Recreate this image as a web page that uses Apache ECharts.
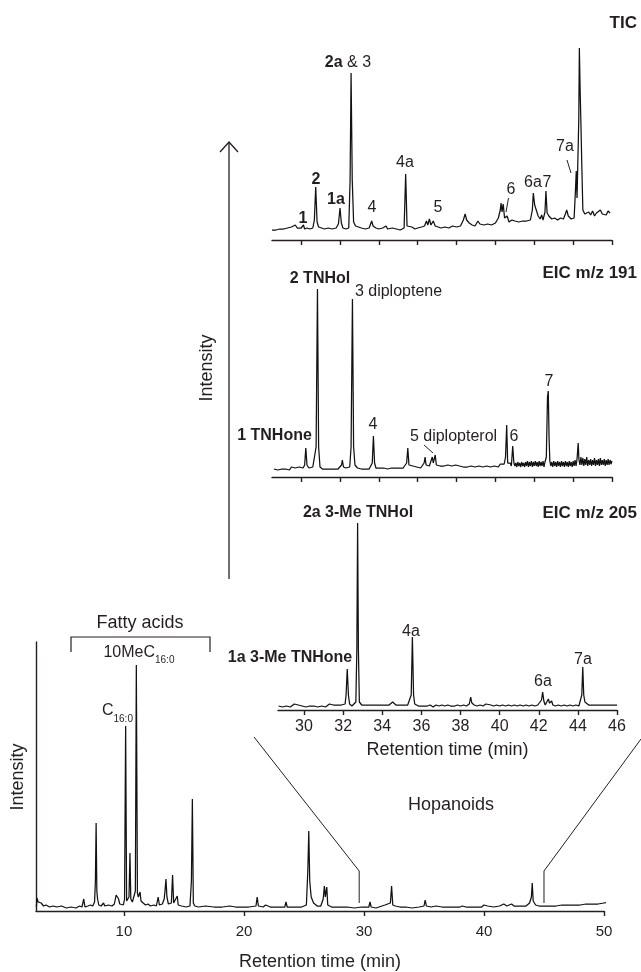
<!DOCTYPE html>
<html><head><meta charset="utf-8">
<script src="https://cdn.jsdelivr.net/npm/echarts@6/dist/echarts.min.js"></script>
<style>html,body{margin:0;padding:0;background:#fff}#c{width:641px;height:972px}</style>
</head><body><div id="c"></div>
<script>
const MAIN_TICKS=[10,20,30,40,50];
const INSET_TICKS=[30,32,34,36,38,40,42,44,46];
const ZOOM_RANGE=[29.6,45.0];

const MAIN_TRACE=[[2.7,4],[2.75,13],[2.85,9],[2.95,7],[3.1,8],[3.3,5],[3.5,6],[3.8,4],[4.1,5],[4.4,4],[4.8,5],[5.2,3],[5.6,4],[6.0,3],[6.3,5],[6.5,4],[6.65,12],[6.75,4],[7.0,5],[7.2,6],[7.4,5],[7.55,9],[7.62,30],[7.68,88],[7.74,20],[7.8,12],[7.9,6],[8.1,5],[8.3,8],[8.4,5],[8.7,6],[9.0,5],[9.2,7],[9.35,16],[9.45,18],[9.55,12],[9.65,7],[9.8,8],[9.95,6],[10.05,12],[10.14,185],[10.22,10],[10.3,8],[10.42,14],[10.5,58],[10.57,12],[10.7,9],[10.85,8],[10.95,20],[11.03,246],[11.12,18],[11.2,14],[11.34,19],[11.42,10],[11.6,8],[11.8,6],[12.0,7],[12.2,5],[12.5,6],[12.7,5],[12.85,14],[12.95,6],[13.2,7],[13.35,12],[13.42,20],[13.5,32],[13.58,14],[13.7,7],[13.95,8],[14.05,36],[14.14,8],[14.3,6],[14.44,15],[14.52,6],[14.8,5],[15.2,4],[15.5,5],[15.62,30],[15.7,112],[15.78,8],[15.9,5],[16.2,4],[16.8,5],[17.5,4],[18.2,4],[18.8,5],[19.3,4],[19.8,4],[20.4,4],[21.0,5],[21.1,14],[21.2,5],[21.6,4],[21.8,6],[22.2,4],[22.8,4],[23.4,4],[23.5,9],[23.6,4],[24.2,4],[24.8,4],[25.2,6],[25.32,40],[25.4,80],[25.48,30],[25.6,14],[25.8,8],[26.1,5],[26.4,5],[26.6,12],[26.7,25],[26.78,14],[26.9,24],[26.98,6],[27.3,4],[28.0,4],[28.6,4],[29.2,3],[29.8,4],[30.4,4],[30.5,9],[30.6,4],[31.0,3],[31.75,6],[31.9,4],[32.2,8],[32.3,25],[32.4,6],[32.6,5],[33.0,4],[33.5,4],[34.0,3],[34.6,4],[35.0,5],[35.1,11],[35.2,5],[35.6,4],[36.0,5],[36.5,4],[37.2,4],[38.0,4],[38.2,5],[38.5,4],[39.2,4],[39.8,4],[40.0,6],[40.3,5],[40.8,4],[41.3,5],[41.65,7],[41.9,5],[42.3,7],[42.5,5],[43.0,5],[43.5,5],[43.8,8],[43.95,14],[44.02,28],[44.1,10],[44.3,6],[44.6,5],[45.0,5],[45.5,5],[46.0,5],[46.5,6],[47.0,6],[47.5,6],[48.0,6],[48.5,7],[49.0,7],[49.5,7],[50.0,8],[50.6,9]];

const TIC_TRACE=[[28.5,10],[28.6,11],[28.7,10],[28.8,12],[28.9,11],[29.0,12],[29.1,11],[29.2,13],[29.3,12],[29.4,11],[29.5,13],[29.6,12],[29.7,15],[29.8,12],[29.9,11],[30.0,12],[30.08,11],[30.12,15],[30.18,11],[30.3,12],[30.45,11],[30.6,12],[30.68,20],[30.75,53],[30.82,18],[30.9,13],[31.0,12],[31.2,11],[31.4,12],[31.6,11],[31.8,12],[31.92,16],[32.0,32],[32.07,17],[32.15,12],[32.3,11],[32.45,12],[32.52,60],[32.57,167],[32.63,60],[32.7,18],[32.8,14],[32.95,13],[33.1,12],[33.3,11],[33.5,12],[33.58,14],[33.63,19],[33.7,14],[33.85,12],[34.0,11],[34.2,12],[34.37,14],[34.45,11],[34.7,12],[34.9,11],[35.1,10],[35.3,12],[35.38,66],[35.45,14],[35.55,12],[35.7,13],[35.85,11],[36.0,12],[36.2,13],[36.35,14],[36.45,19],[36.52,15],[36.6,21],[36.68,15],[36.8,19],[36.9,14],[37.05,13],[37.2,12],[37.4,13],[37.6,12],[37.8,14],[38.0,13],[38.2,14],[38.35,20],[38.44,26],[38.52,20],[38.65,17],[38.8,15],[38.95,14],[39.1,19],[39.2,16],[39.4,15],[39.6,16],[39.8,15],[40.0,17],[40.15,22],[40.25,30],[40.29,37],[40.34,28],[40.4,36],[40.47,22],[40.55,20],[40.6,24],[40.7,18],[40.85,20],[41.0,19],[41.2,18],[41.4,19],[41.6,19],[41.8,20],[41.9,30],[41.95,47],[42.02,35],[42.12,33],[42.2,24],[42.3,21],[42.38,25],[42.45,20],[42.55,28],[42.6,49],[42.66,27],[42.75,24],[42.9,21],[43.05,22],[43.2,20],[43.35,22],[43.5,21],[43.6,26],[43.67,30],[43.75,24],[43.9,21],[44.05,22],[44.12,50],[44.16,69],[44.2,42],[44.25,40],[44.29,120],[44.32,192],[44.36,150],[44.4,117],[44.44,80],[44.5,30],[44.6,26],[44.7,24],[44.8,28],[44.9,25],[45.0,29],[45.1,24],[45.2,27],[45.3,25],[45.4,30],[45.5,26],[45.6,28],[45.7,25],[45.8,29],[45.9,27]];

const EIC191_TRACE=[[28.6,8],[28.7,10],[28.8,7],[28.9,9],[29.0,8],[29.1,10],[29.2,8],[29.3,9],[29.4,7],[29.5,10],[29.6,8],[29.7,9],[29.8,8],[29.9,10],[30.0,8],[30.1,9],[30.18,12],[30.24,29],[30.3,12],[30.4,9],[30.5,8],[30.6,10],[30.7,9],[30.77,30],[30.84,188],[30.9,30],[30.97,10],[31.1,8],[31.2,10],[31.3,8],[31.4,9],[31.5,8],[31.6,10],[31.7,8],[31.8,9],[31.9,8],[32.0,10],[32.08,12],[32.12,17],[32.18,10],[32.3,9],[32.4,8],[32.5,10],[32.57,30],[32.64,178],[32.7,30],[32.77,12],[32.9,9],[33.0,10],[33.1,8],[33.2,9],[33.3,8],[33.4,10],[33.5,8],[33.6,9],[33.66,14],[33.72,41],[33.78,14],[33.85,9],[33.95,10],[34.05,9],[34.15,11],[34.25,9],[34.35,10],[34.45,8],[34.55,10],[34.65,9],[34.75,11],[34.85,9],[34.95,10],[35.05,9],[35.15,11],[35.25,9],[35.35,10],[35.43,14],[35.49,29],[35.55,12],[35.65,10],[35.75,11],[35.85,9],[35.95,10],[36.05,11],[36.15,9],[36.25,11],[36.33,14],[36.38,20],[36.43,12],[36.5,10],[36.6,11],[36.7,13],[36.75,20],[36.8,14],[36.86,16],[36.9,22],[36.96,12],[37.05,10],[37.15,11],[37.25,10],[37.35,11],[37.45,10],[37.55,12],[37.65,10],[37.75,11],[37.85,10],[37.95,12],[38.05,10],[38.15,11],[38.25,12],[38.35,10],[38.45,12],[38.55,10],[38.65,12],[38.75,11],[38.85,12],[38.95,10],[39.05,12],[39.15,11],[39.25,13],[39.35,10],[39.45,12],[39.55,11],[39.65,13],[39.75,10],[39.85,12],[39.95,11],[40.05,13],[40.15,10],[40.25,13],[40.35,11],[40.45,13],[40.52,20],[40.58,52],[40.63,14],[40.7,12],[40.76,14],[40.82,11],[40.89,31],[40.95,14],[41.0,11],[41.05,14],[41.1,10],[41.15,15],[41.2,11],[41.25,14],[41.3,10],[41.35,15],[41.4,11],[41.45,14],[41.5,10],[41.55,15],[41.6,11],[41.65,16],[41.7,10],[41.75,15],[41.8,11],[41.85,16],[41.9,10],[41.95,15],[42.0,11],[42.05,16],[42.1,11],[42.15,15],[42.2,10],[42.25,16],[42.3,11],[42.35,15],[42.4,11],[42.45,16],[42.5,10],[42.55,15],[42.62,20],[42.68,80],[42.72,86],[42.76,40],[42.8,16],[42.85,11],[42.9,15],[42.95,10],[43.0,16],[43.05,11],[43.1,15],[43.15,10],[43.2,16],[43.25,11],[43.3,15],[43.35,10],[43.4,16],[43.45,11],[43.5,15],[43.55,10],[43.6,16],[43.65,11],[43.7,15],[43.75,10],[43.8,16],[43.85,11],[43.9,15],[43.95,10],[44.0,16],[44.05,11],[44.1,17],[44.15,11],[44.2,18],[44.26,34],[44.3,17],[44.35,12],[44.4,20],[44.45,12],[44.5,19],[44.55,11],[44.6,18],[44.65,12],[44.7,20],[44.75,11],[44.8,17],[44.85,12],[44.9,18],[44.95,11],[45.0,17],[45.05,12],[45.1,19],[45.15,11],[45.2,17],[45.25,12],[45.3,18],[45.35,11],[45.4,19],[45.45,12],[45.5,17],[45.55,12],[45.6,18],[45.65,11],[45.7,17],[45.75,12],[45.8,18],[45.85,12],[45.9,17],[45.95,13],[46.0,16]];

const EIC205_TRACE=[[28.7,4],[28.8,5],[28.9,3],[29.0,5],[29.1,4],[29.2,5],[29.3,3],[29.4,4],[29.5,6],[29.6,4],[29.7,5],[29.8,3],[29.9,4],[30.0,5],[30.1,3],[30.2,5],[30.3,4],[30.4,6],[30.5,4],[30.6,5],[30.7,3],[30.8,5],[30.9,4],[31.0,5],[31.1,3],[31.2,4],[31.3,6],[31.4,4],[31.5,5],[31.6,4],[31.7,5],[31.8,4],[31.9,5],[32.0,4],[32.1,6],[32.15,15],[32.21,41],[32.27,15],[32.33,6],[32.45,4],[32.55,5],[32.65,8],[32.7,60],[32.74,187],[32.78,60],[32.83,8],[32.95,5],[33.05,4],[33.15,5],[33.25,4],[33.35,5],[33.45,3],[33.55,5],[33.65,4],[33.75,5],[33.85,4],[33.95,5],[34.05,4],[34.15,5],[34.25,4],[34.35,5],[34.45,6],[34.53,8],[34.6,7],[34.7,5],[34.8,4],[34.9,5],[35.0,4],[35.1,5],[35.2,4],[35.3,5],[35.4,4],[35.48,15],[35.54,73],[35.6,15],[35.66,6],[35.75,5],[35.85,4],[35.95,5],[36.05,4],[36.15,5],[36.3,4],[36.45,5],[36.6,3],[36.75,5],[36.9,4],[37.05,5],[37.2,4],[37.35,5],[37.5,4],[37.6,6],[37.7,4],[37.85,5],[38.0,4],[38.15,5],[38.3,4],[38.45,6],[38.52,13],[38.58,7],[38.7,5],[38.85,4],[39.0,5],[39.15,4],[39.3,6],[39.4,4],[39.55,5],[39.7,4],[39.85,5],[40.0,4],[40.15,5],[40.3,4],[40.45,5],[40.6,4],[40.75,5],[40.9,4],[41.05,5],[41.2,4],[41.35,5],[41.5,4],[41.65,5],[41.8,4],[41.95,5],[42.05,4],[42.14,10],[42.2,18],[42.26,9],[42.33,5],[42.4,6],[42.49,11],[42.55,7],[42.62,8],[42.66,9],[42.72,5],[42.85,4],[43.0,5],[43.15,4],[43.3,5],[43.45,4],[43.6,5],[43.75,4],[43.9,5],[44.05,4],[44.15,6],[44.2,15],[44.25,43],[44.3,15],[44.36,8],[44.45,6],[44.55,5],[44.65,4],[44.75,5],[44.85,4],[44.95,5],[45.05,4],[45.15,5],[45.25,4],[45.35,5],[45.45,4],[45.55,5],[45.65,4],[45.75,5],[45.85,4],[46.0,5]];

const FONT="'Liberation Sans', Arial, Helvetica, sans-serif";
const INK='#231f20';
const chart=echarts.init(document.getElementById('c'),null,{renderer:'canvas'});

function xax(gi,min,max,ticks,labels,name,opts){
  return Object.assign({type:'value',gridIndex:gi,min:min,max:max,
    axisLine:{show:true,lineStyle:{color:INK,width:1.4}},
    axisTick:{show:true,customValues:ticks,length:5,lineStyle:{color:INK,width:1.4}},
    axisLabel:{show:labels,customValues:ticks,color:INK,fontFamily:FONT,fontSize:16,margin:9},
    splitLine:{show:false},
    name:name,nameLocation:'middle',nameGap:31,
    nameTextStyle:{color:INK,fontFamily:FONT,fontSize:18}},opts||{});
}
function yax(gi,max,show){
  return {type:'value',gridIndex:gi,min:0,max:max,
    axisLine:{show:show,lineStyle:{color:INK,width:1.4}},
    axisTick:{show:false},axisLabel:{show:false},splitLine:{show:false}};
}
function ser(xi,data,clip){
  return {type:'line',xAxisIndex:xi,yAxisIndex:xi,data:data,showSymbol:false,symbol:'none',
    clip:clip,lineStyle:{width:1.25,color:'#111'},silent:true,animation:false};
}

chart.setOption({
  animation:false,
  grid:[
    {left:36,right:37,top:642,bottom:61},
    {left:272,right:29,top:40,bottom:732},
    {left:272,right:29,top:277,bottom:495},
    {left:278,right:24,top:510,bottom:262}
  ],
  xAxis:[
    xax(0,2.67,50,MAIN_TICKS,true,'Retention time (min)',{nameGap:42,axisLabel:{show:true,customValues:MAIN_TICKS,color:INK,fontFamily:FONT,fontSize:15,margin:13}}),
    xax(1,28.5,46,INSET_TICKS,false,''),
    xax(2,28.5,46,INSET_TICKS,false,''),
    xax(3,28.67,46,INSET_TICKS,true,'Retention time (min)')
  ],
  yAxis:[yax(0,269,true),yax(1,200,false),yax(2,200,false),yax(3,200,false)],
  series:[ser(0,MAIN_TRACE,false),ser(1,TIC_TRACE,true),ser(2,EIC191_TRACE,true),ser(3,EIC205_TRACE,true)]
});

function txt(x,y,text,o){
  return {type:'text',x:x,y:y,silent:true,rotation:(o&&o.rot)||0,
    style:Object.assign({text:text,fill:INK,fontFamily:FONT,fontSize:16,align:'center',verticalAlign:'middle'},o&&o.st||{})};
}
function seg(x1,y1,x2,y2,w){
  return {type:'line',silent:true,shape:{x1:x1,y1:y1,x2:x2,y2:y2},style:{stroke:INK,lineWidth:w||1}};
}
const B={fontWeight:'bold'};
const pL0=chart.convertToPixel({gridIndex:0},[ZOOM_RANGE[0],8]);
const pL1=chart.convertToPixel({gridIndex:0},[ZOOM_RANGE[0],40]);
const pR0=chart.convertToPixel({gridIndex:0},[ZOOM_RANGE[1],8]);
const pR1=chart.convertToPixel({gridIndex:0},[ZOOM_RANGE[1],40]);

const g=[
  // TIC
  txt(637,23,'TIC',{st:{fontWeight:'bold',fontSize:17,align:'right'}}),
  txt(348,63,'{b|2a} & 3',{st:{rich:{b:{fontWeight:'bold',fontSize:16,fontFamily:FONT,fill:INK}}}}),
  txt(316,180,'2',{st:B}),
  txt(336,200,'1a',{st:B}),
  txt(303,219,'1',{st:B}),
  txt(372,208,'4'),
  txt(405,163,'4a'),
  txt(438,208,'5'),
  txt(511,190,'6'), seg(508.5,198,506,212),
  txt(533,183,'6a'), txt(547,183,'7'),
  txt(565,147,'7a'), seg(567,160,571,173),
  // EIC 191
  txt(637,273,'EIC m/z 191',{st:{fontWeight:'bold',fontSize:17,align:'right'}}),
  txt(320,279,'2 TNHol',{st:B}),
  txt(398.5,292,'3 diploptene'),
  txt(373,425,'4'),
  txt(453.5,437,'5 diplopterol'), seg(424,445,433,453),
  txt(514,437,'6'),
  txt(549,382,'7'),
  txt(274.5,436,'1 TNHone',{st:B}),
  // EIC 205
  txt(637,513,'EIC m/z 205',{st:{fontWeight:'bold',fontSize:17,align:'right'}}),
  txt(358,513,'2a 3-Me TNHol',{st:B}),
  txt(411,632,'4a'),
  txt(290,658,'1a 3-Me TNHone',{st:B}),
  txt(543,682,'6a'),
  txt(583,660,'7a'),
  // inset intensity arrow
  seg(229,579,229,142,1.3),
  {type:'polyline',silent:true,shape:{points:[[220,152],[229,142],[238,152]]},style:{stroke:INK,lineWidth:1.3,fill:null}},
  txt(207,368,'Intensity',{rot:Math.PI/2,st:{fontSize:18}}),
  // main labels
  txt(18,777,'Intensity',{rot:Math.PI/2,st:{fontSize:18}}),
  txt(140,623,'Fatty acids',{st:{fontSize:18}}),
  {type:'polyline',silent:true,shape:{points:[[71,652],[71,637],[210,637],[210,652]]},style:{stroke:INK,lineWidth:1.2,fill:null}},
  txt(155,653,'10MeC',{st:{align:'right'}}),
  txt(155,660,'16:0',{st:{align:'left',fontSize:10}}),
  txt(113.5,711,'C',{st:{align:'right'}}),
  txt(113.5,719,'16:0',{st:{align:'left',fontSize:10}}),
  txt(451,805,'Hopanoids',{st:{fontSize:18}}),
  // zoom connectors
  {type:'polyline',silent:true,shape:{points:[[254,737],[pL1[0],pL1[1]],[pL0[0],pL0[1]]]},style:{stroke:INK,lineWidth:1,fill:null}},
  {type:'polyline',silent:true,shape:{points:[[641,739],[pR1[0],pR1[1]],[pR0[0],pR0[1]]]},style:{stroke:INK,lineWidth:1,fill:null}}
];
chart.setOption({graphic:g});
</script></body></html>
